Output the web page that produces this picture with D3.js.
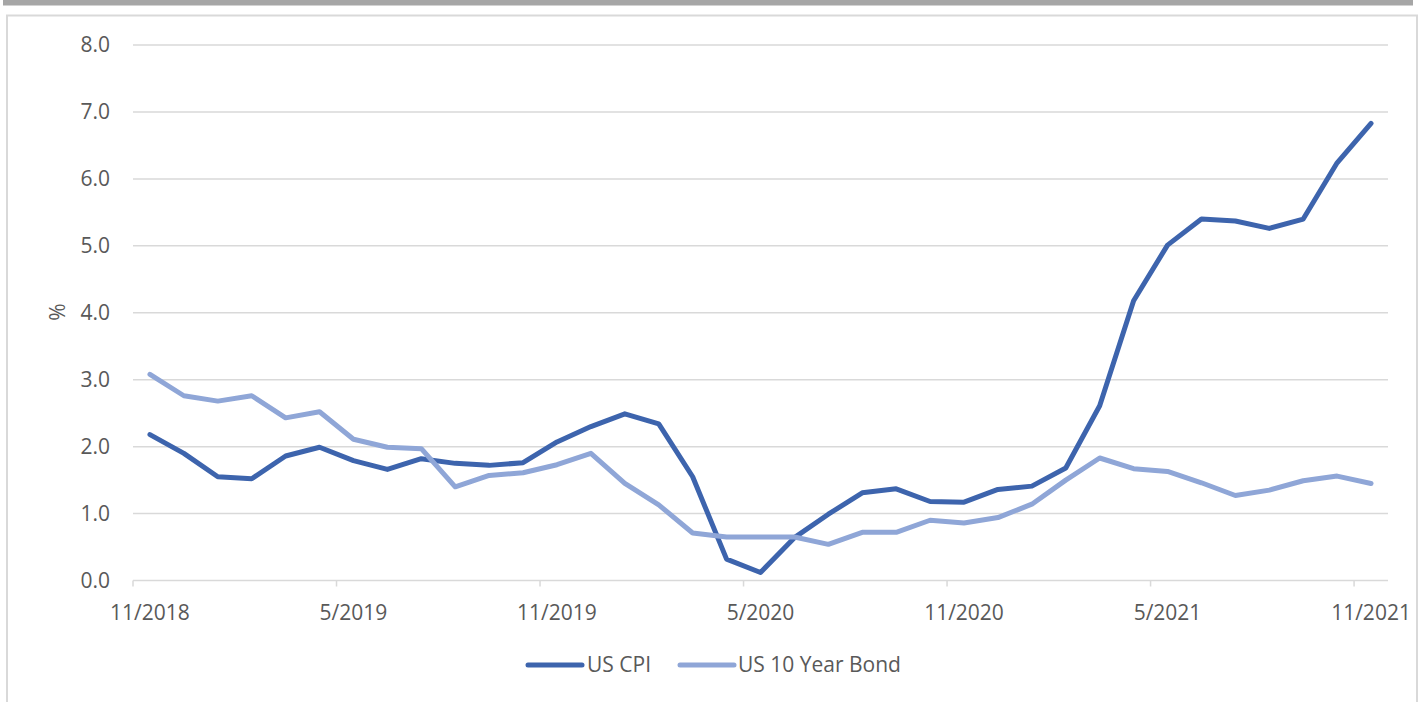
<!DOCTYPE html>
<html>
<head>
<meta charset="utf-8">
<script src="https://cdn.jsdelivr.net/npm/d3@7/dist/d3.min.js"></script>
<style>
  html, body { margin: 0; padding: 0; background: #ffffff; }
  svg { display: block; }
  text { font-family: "Open Sans", "Noto Sans", sans-serif; fill: #595959; }
</style>
</head>
<body>
<svg id="chart" width="1424" height="702"></svg>
<script>
// Monthly observations, 11/2018 – 11/2021
const months = [
  "11/2018","12/2018","1/2019","2/2019","3/2019","4/2019","5/2019","6/2019","7/2019","8/2019","9/2019","10/2019",
  "11/2019","12/2019","1/2020","2/2020","3/2020","4/2020","5/2020","6/2020","7/2020","8/2020","9/2020","10/2020",
  "11/2020","12/2020","1/2021","2/2021","3/2021","4/2021","5/2021","6/2021","7/2021","8/2021","9/2021","10/2021",
  "11/2021"
];

const usCpi = [
  2.18, 1.90, 1.55, 1.52, 1.86, 1.99, 1.79, 1.66, 1.82, 1.75, 1.72, 1.76,
  2.07, 2.30, 2.49, 2.34, 1.55, 0.32, 0.12, 0.64, 0.99, 1.31, 1.37, 1.18,
  1.17, 1.36, 1.41, 1.68, 2.61, 4.18, 5.01, 5.40, 5.37, 5.26, 5.40, 6.24,
  6.83
];

const us10yBond = [
  3.08, 2.76, 2.68, 2.76, 2.43, 2.52, 2.11, 1.99, 1.97, 1.40, 1.57, 1.61,
  1.73, 1.90, 1.45, 1.13, 0.71, 0.65, 0.65, 0.65, 0.54, 0.72, 0.72, 0.90,
  0.86, 0.94, 1.14, 1.50, 1.83, 1.67, 1.63, 1.46, 1.27, 1.35, 1.49, 1.56,
  1.45
];

const yTicks = [0, 1, 2, 3, 4, 5, 6, 7, 8];
const xLabelMonths = ["11/2018","5/2019","11/2019","5/2020","11/2020","5/2021","11/2021"];

const seriesNames = ["US CPI", "US 10 Year Bond"];
const seriesColors = ["#3d64ad", "#8fa6d7"];

const fontSize = 21;
const svg = d3.select("#chart");

// outer frame
svg.append("rect").attr("x", 3).attr("y", 0).attr("width", 1410).attr("height", 5.5).attr("fill", "#a6a6a6");
svg.append("rect").attr("x", 7).attr("y", 15.5).attr("width", 1410).attr("height", 720)
  .attr("fill", "#ffffff").attr("stroke", "#d9d9d9").attr("stroke-width", 2);

const plot = { left: 133, right: 1388, top: 45, bottom: 580.5 };

const x = d3.scaleBand().domain(months).range([plot.left, plot.right]).padding(0);
const y = d3.scaleLinear().domain([0, 8]).range([plot.bottom, plot.top]);
const cx = m => x(m) + x.bandwidth() / 2;

// horizontal gridlines
svg.append("g")
  .selectAll("line")
  .data(yTicks.filter(t => t > 0))
  .join("line")
  .attr("x1", plot.left).attr("x2", plot.right)
  .attr("y1", d => y(d)).attr("y2", d => y(d))
  .attr("stroke", "#d9d9d9").attr("stroke-width", 1.5);

// y axis labels
const yAxis = d3.axisLeft(y).tickValues(yTicks).tickFormat(d3.format(".1f")).tickSize(0).tickPadding(23);
svg.append("g")
  .attr("transform", `translate(${plot.left},0)`)
  .call(yAxis)
  .call(g => g.select(".domain").remove())
  .call(g => g.selectAll("text").attr("font-size", fontSize).attr("fill", "#595959")
    .style("font-family", "'Open Sans', sans-serif"));

// x axis baseline
svg.append("line")
  .attr("x1", plot.left).attr("x2", plot.right)
  .attr("y1", y(0)).attr("y2", y(0))
  .attr("stroke", "#d9d9d9").attr("stroke-width", 1.5);

// x tick marks at the left edge of each labelled month
const tickIdx = xLabelMonths.map(m => months.indexOf(m));
svg.append("g")
  .selectAll("line")
  .data(tickIdx)
  .join("line")
  .attr("x1", i => x(months[i])).attr("x2", i => x(months[i]))
  .attr("y1", y(0)).attr("y2", y(0) + 6)
  .attr("stroke", "#d9d9d9").attr("stroke-width", 1.5);

// x labels centred on their month
svg.append("g")
  .selectAll("text")
  .data(xLabelMonths)
  .join("text")
  .attr("x", m => cx(m))
  .attr("y", 620)
  .attr("text-anchor", "middle")
  .attr("font-size", fontSize)
  .text(m => m);

// y axis title
svg.append("text")
  .attr("transform", "translate(65,312) rotate(-90)")
  .attr("text-anchor", "middle")
  .attr("font-size", fontSize)
  .text("%");

// series lines
const line = d3.line().x((d, i) => cx(months[i])).y(d => y(d));
[usCpi, us10yBond].forEach((vals, k) => {
  svg.append("path")
    .datum(vals)
    .attr("d", line)
    .attr("fill", "none")
    .attr("stroke", seriesColors[k])
    .attr("stroke-width", 5)
    .attr("stroke-linejoin", "round")
    .attr("stroke-linecap", "round");
});

// legend
const legendItems = [
  { name: seriesNames[0], color: seriesColors[0], x0: 528, tx: 587 },
  { name: seriesNames[1], color: seriesColors[1], x0: 680, tx: 738 }
];
const lg = svg.append("g");
legendItems.forEach(it => {
  lg.append("line")
    .attr("x1", it.x0).attr("x2", it.x0 + 54)
    .attr("y1", 665).attr("y2", 665)
    .attr("stroke", it.color).attr("stroke-width", 5).attr("stroke-linecap", "round");
  lg.append("text")
    .attr("x", it.tx).attr("y", 672)
    .attr("font-size", fontSize)
    .text(it.name);
});
</script>
</body>
</html>
